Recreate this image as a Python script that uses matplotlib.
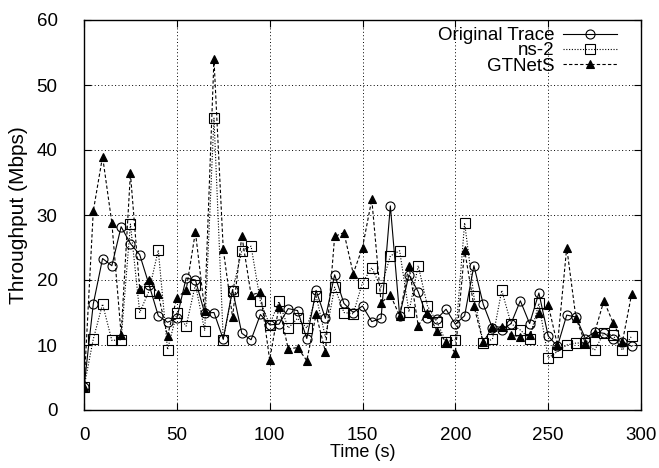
import matplotlib
matplotlib.use("Agg")
import matplotlib.pyplot as plt
import numpy as np

plt.rcParams['font.family'] = ['Liberation Sans', 'DejaVu Sans']

time_s = list(range(0, 300, 5))

original_trace = [3.5, 16.3, 23.3, 22.2, 28.2, 25.6, 23.9, 19.3, 14.5, 13.5,
                  14.1, 20.3, 20.0, 14.9, 15.0, 10.9, 18.5, 11.8, 10.8, 14.7,
                  13.1, 13.2, 15.6, 15.3, 11.0, 18.4, 14.1, 20.8, 16.4, 15.0,
                  16.0, 13.6, 14.1, 31.4, 14.5, 20.8, 18.2, 14.1, 14.0, 15.5,
                  13.2, 14.5, 22.2, 16.3, 12.6, 12.3, 13.3, 16.8, 13.3, 18.0,
                  11.4, 9.8, 14.6, 14.3, 11.0, 12.0, 11.8, 10.9, 10.5, 9.8]

ns2 = [3.5, 10.9, 16.3, 10.7, 10.8, 28.6, 15.0, 18.3, 24.6, 9.3,
       14.9, 12.9, 19.3, 12.2, 44.9, 10.8, 18.3, 24.5, 25.2, 16.7,
       13.1, 16.7, 12.6, 14.1, 12.6, 17.6, 11.2, 18.9, 15.0, 14.8,
       19.6, 21.9, 18.8, 23.7, 24.5, 15.1, 22.2, 16.0, 13.6, 10.5,
       10.8, 28.8, 17.5, 10.3, 10.9, 18.4, 13.3, 12.3, 11.0, 16.4,
       8.0, 9.0, 10.0, 10.3, 10.3, 9.2, 11.8, 11.5, 9.2, 11.4]

gtnets = [3.5, 30.6, 39.0, 28.8, 11.6, 36.4, 18.6, 20.0, 17.8, 11.4,
          17.3, 18.4, 27.4, 15.3, 54.0, 24.7, 14.3, 26.8, 17.7, 18.1,
          7.7, 15.9, 9.4, 9.6, 7.6, 14.7, 9.0, 26.7, 27.3, 21.0,
          25.0, 32.4, 16.5, 17.7, 14.5, 22.2, 13.0, 15.0, 12.2, 10.5,
          8.8, 24.6, 16.0, 10.4, 12.8, 12.8, 11.5, 11.3, 11.5, 14.9,
          16.2, 10.0, 25.0, 14.1, 10.3, 11.9, 16.8, 13.4, 10.5, 17.9]

x_ticks = [0, 50, 100, 150, 200, 250, 300]
y_ticks = [0, 10, 20, 30, 40, 50, 60]

fig = plt.figure(figsize=(6.59, 4.68), dpi=100)
ax = fig.add_axes([84/659, 1-410/468, (641-84)/659, (410-20)/468])

ax.plot(time_s, original_trace, color='black', linestyle='-', linewidth=0.8,
        marker='o', markersize=6.5, markerfacecolor='none', markeredgewidth=0.8,
        label='Original Trace')
ax.plot(time_s, ns2, color='black', linestyle=(0, (1, 1.5)), linewidth=0.8,
        marker='s', markersize=6.5, markerfacecolor='none', markeredgewidth=0.8,
        label='ns-2')
ax.plot(time_s, gtnets, color='black', linestyle=(0, (3, 2)), linewidth=0.8,
        marker='^', markersize=5.5, markerfacecolor='black', markeredgewidth=0.8,
        label='GTNetS')

ax.set_xlim(0, 300)
ax.set_ylim(0, 60)
ax.set_xticks(x_ticks)
ax.set_yticks(y_ticks)
ax.tick_params(direction='in', top=True, right=True, length=5, width=0.8,
               labelsize=13.5)
ax.tick_params(axis='x', pad=12)
ax.tick_params(axis='y', pad=19)
ax.grid(True, color='black', linestyle=(0, (1, 2.5)), linewidth=0.7)
for s in ax.spines.values():
    s.set_linewidth(1.0)

ax.set_xlabel('Time (s)', fontsize=13, labelpad=0)
ax.set_ylabel('Throughput (Mbps)', fontsize=15, labelpad=6)

leg = ax.legend(loc='upper right', markerfirst=False, frameon=False,
                fontsize=13.5, handlelength=2.9, handletextpad=0.45,
                labelspacing=-0.1, borderaxespad=0, borderpad=0,
                bbox_to_anchor=((617-84)/557, 1 - 7/390))

fig.savefig('out.png', dpi=100)
